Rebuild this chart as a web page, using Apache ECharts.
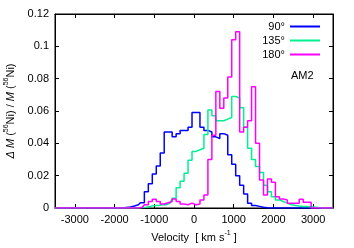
<!DOCTYPE html>
<html><head><meta charset="utf-8">
<script src="https://cdn.jsdelivr.net/npm/echarts@6/dist/echarts.min.js"></script>
<style>html,body{margin:0;padding:0;background:#fff}#c{width:354px;height:248px}</style>
</head><body><div id="c"></div>
<script>
// bin centres (km/s), bins are 100 km/s wide
const binCenters = [-1800,-1700,-1600,-1500,-1400,-1300,-1200,-1100,-1000,-900,-800,-700,-600,-500,-400,-300,-200,-100,
  0,100,200,300,400,500,600,700,800,900,1000,1100,1200,1300,1400,1500,1600,1700,1800,1900,2000,2100,2200,2300,2400,2500,2600,2700,2800,2900,3000];
const v90 = [0,0.0003,0.0006,0.0012,0.002,0.0033,0.010,0.015,0.021,0.026,0.034,0.047,0.047,0.044,0.046,0.048,0.048,0.050,
  0.059,0.059,0.050,0.048,0.047,0.044,0.043,0.046,0.045,0.033,0.027,0.020,0.014,0.0087,0.003,0.0015,0.001,0.0005,0.0002,0,0,0,0,0,0,0,0,0,0,0,0];
const v135 = [0,0,0,0,0,0.0003,0.0005,0.001,0.0015,0.0015,0.002,0.002,0.003,0.006,0.0125,0.0165,0.0215,0.0295,
  0.035,0.036,0.037,0.0455,0.0606,0.057,0.054,0.054,0.055,0.056,0.069,0.068,0.062,0.050,0.037,0.030,0.0256,0.022,0.014,0.010,0.007,0.005,0.004,0.003,0.002,0.0015,0.0012,0.001,0.001,0.0008,0];
const v180 = [0,0,0,0,0,0.0005,0.002,0.004,0.0054,0.004,0.0025,0.0033,0.004,0.0056,0.004,0.0025,0.002,0.003,
  0.002,0.0025,0.005,0.008,0.030,0.045,0.072,0.0617,0.068,0.081,0.104,0.109,0.047,0.050,0.054,0.075,0.040,0.0173,0.008,0.018,0.016,0.007,0.0056,0.005,0.003,0.003,0.003,0.0054,0.0035,0.0035,0];
const seriesNames = ['90°','135°','180°'];
const seriesColors = ['#0000ff','#00f090','#ff00ff'];
const xRange = [-3500, 3500];
const xTicks = [-3000,-2000,-1000,0,1000,2000,3000];
const yRange = [0, 0.12];
const yStep = 0.02;

function build(vals){
  const d = [[xRange[0], 0]];
  binCenters.forEach((c,i)=>d.push([c, vals[i]]));
  d.push([xRange[1], 0]);
  return d;
}
const FONT = 'Liberation Sans, Arial, sans-serif';
const chart = echarts.init(document.getElementById('c'), null, {renderer:'canvas'});
const axisLineCfg = {show:true, onZero:false, lineStyle:{color:'#000', width:1}};
const supRich = {
  n:{fontSize:11, color:'#000', fontFamily:FONT, lineHeight:13, verticalAlign:'bottom'},
  it:{fontSize:11, color:'#000', fontStyle:'italic', fontFamily:FONT, lineHeight:13, verticalAlign:'bottom'},
  sup:{fontSize:7, color:'#000', fontFamily:FONT, lineHeight:8, verticalAlign:'top'}
};
chart.setOption({
  animation:false,
  textStyle:{fontFamily:FONT},
  grid:{left:55, top:14, right:21, bottom:40, show:true, borderColor:'#000', borderWidth:1,
        containLabel:false, outerBoundsMode:'none'},
  title:{text:'AM2', left:291, top:70, padding:0, textStyle:{fontSize:11, fontWeight:'normal', color:'#000', fontFamily:FONT}},
  legend:{orient:'vertical', right:33, top:21, align:'right', itemWidth:30, itemHeight:10, itemGap:3, padding:0,
    itemStyle:{opacity:0, borderWidth:0},
    textStyle:{fontSize:11, color:'#000', fontFamily:FONT}, data:seriesNames},
  xAxis:[
    {type:'value', min:xRange[0], max:xRange[1], position:'bottom', axisLine:axisLineCfg, splitLine:{show:false},
      name:'{n|Velocity  [ km s}{sup|-1}{n| ]}', nameLocation:'middle', nameGap:22,
      nameTextStyle:{rich:supRich},
      axisTick:{inside:true, length:4, customValues:xTicks, lineStyle:{color:'#000'}},
      axisLabel:{customValues:xTicks, fontSize:11, color:'#000', margin:6, fontFamily:FONT, formatter:v=>String(v)}},
    {type:'value', min:xRange[0], max:xRange[1], position:'top', axisLine:axisLineCfg, splitLine:{show:false},
      axisTick:{inside:true, length:4, customValues:xTicks, lineStyle:{color:'#000'}},
      axisLabel:{show:false}}
  ],
  yAxis:[
    {type:'value', min:yRange[0], max:yRange[1], interval:yStep, position:'left', axisLine:axisLineCfg, splitLine:{show:false},
      name:'{it|Δ M}{n| (}{sup|56}{n|Ni) / }{it|M}{n| (}{sup|56}{n|Ni)}', nameLocation:'middle', nameGap:39,
      nameTextStyle:{rich:supRich},
      axisTick:{inside:true, length:4, lineStyle:{color:'#000'}},
      axisLabel:{fontSize:11, color:'#000', margin:6, fontFamily:FONT, formatter:v=>String(v)}},
    {type:'value', min:yRange[0], max:yRange[1], interval:yStep, position:'right', axisLine:axisLineCfg, splitLine:{show:false},
      axisTick:{inside:true, length:4, lineStyle:{color:'#000'}},
      axisLabel:{show:false}}
  ],
  series:[v90, v135, v180].map((vals,i)=>({
    name:seriesNames[i], type:'line', step:'middle', symbol:'none', showSymbol:false,
    xAxisIndex:0, yAxisIndex:0, data:build(vals),
    lineStyle:{width:1.5, color:seriesColors[i]}, itemStyle:{color:seriesColors[i]}
  }))
});
</script></body></html>
